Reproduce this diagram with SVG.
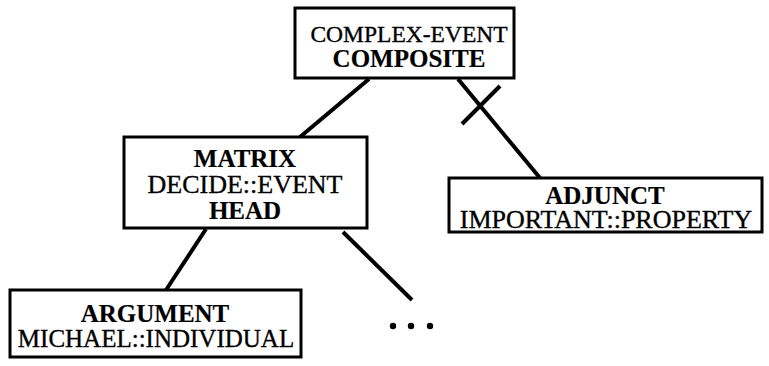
<svg xmlns="http://www.w3.org/2000/svg" width="769" height="366" viewBox="0 0 769 366">
  <style>
    .box { fill: #ffffff; stroke: #000000; stroke-width: 3; }
    .edge { stroke: #000000; stroke-width: 4; fill: none; stroke-linecap: butt; }
    text { font-family: "Liberation Serif", "Times New Roman", serif; font-size: 25px; fill: #000000; stroke: #000000; stroke-width: 0.35; text-anchor: middle; }
    .b { font-weight: bold; stroke-width: 0.2; }
  </style>
  <rect width="769" height="366" fill="#ffffff"/>

  <!-- tree edges -->
  <g id="connectors">
    <line class="edge" x1="369" y1="79" x2="300" y2="137"/>
    <line class="edge" x1="458" y1="79" x2="540" y2="178"/>
    <line class="edge" x1="462" y1="124" x2="500" y2="86"/>
    <line class="edge" x1="206" y1="229" x2="166" y2="290"/>
    <line class="edge" x1="343" y1="232" x2="412" y2="300"/>
  </g>

  <g id="complex-event">
    <rect class="box" x="295" y="8" width="219" height="70"/>
    <text x="409" y="42" style="font-size:23.5px">COMPLEX-EVENT</text>
    <text class="b" x="409" y="67">COMPOSITE</text>
  </g>

  <g id="matrix">
    <rect class="box" x="124" y="137" width="243" height="91"/>
    <text class="b" x="245" y="167">MATRIX</text>
    <text x="245" y="193" style="font-size:26px">DECIDE::EVENT</text>
    <text class="b" x="245" y="219">HEAD</text>
  </g>

  <g id="adjunct">
    <rect class="box" x="449" y="178" width="313" height="54"/>
    <text class="b" x="605" y="204">ADJUNCT</text>
    <text x="606" y="228" style="font-size:26px">IMPORTANT::PROPERTY</text>
  </g>

  <g id="argument">
    <rect class="box" x="10" y="290" width="291" height="67"/>
    <text class="b" x="155" y="322">ARGUMENT</text>
    <text x="156" y="347">MICHAEL::INDIVIDUAL</text>
  </g>

  <g id="more">
    <circle cx="393" cy="326" r="3.2"/>
    <circle cx="411" cy="326" r="3.2"/>
    <circle cx="430" cy="326" r="3.2"/>
  </g>
</svg>
